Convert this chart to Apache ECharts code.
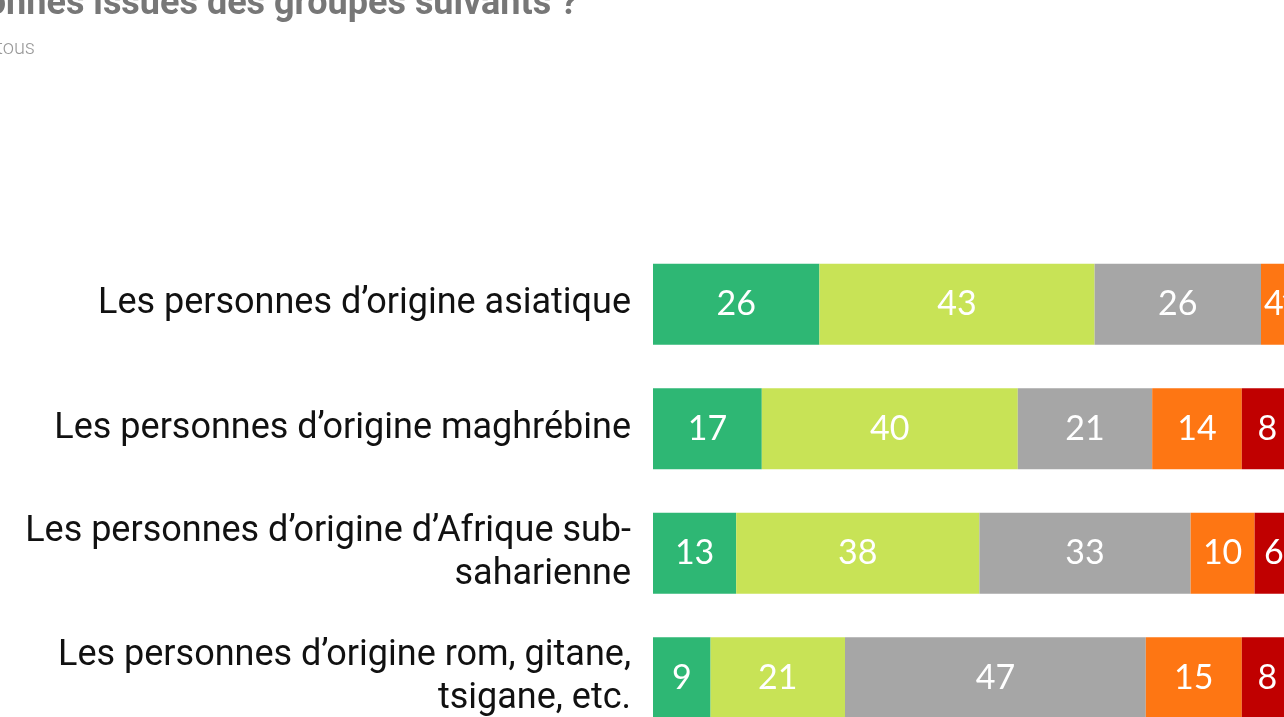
<!DOCTYPE html>
<html>
<head>
<meta charset="utf-8">
<script src="https://cdn.jsdelivr.net/npm/echarts@6/dist/echarts.min.js"></script>
<style>
  html,body{margin:0;padding:0;background:#fff;}
  #chart{width:1284px;height:717px;}
</style>
</head>
<body>
<div id="chart"></div>
<script>
// categories (top to bottom)
var categories = [
  "Les personnes d\u2019origine asiatique",
  "Les personnes d\u2019origine maghr\u00e9bine",
  "Les personnes d\u2019origine d\u2019Afrique sub-\nsaharienne",
  "Les personnes d\u2019origine rom, gitane,\ntsigane, etc."
];
// series values, in %
var tresPositive = [26, 17, 13, 9];
var plutotPositive = [43, 40, 38, 21];
var neutre = [26, 21, 33, 47];
var plutotNegative = [4, 14, 10, 15];
var tresNegative = [1, 8, 6, 8];

var seriesNames = ["Tr\u00e8s positive", "Plut\u00f4t positive", "Ni l'un ni l'autre", "Plut\u00f4t n\u00e9gative", "Tr\u00e8s n\u00e9gative"];
var seriesData = [tresPositive, plutotPositive, neutre, plutotNegative, tresNegative];
var colors = ["#2EB774", "#C8E356", "#A6A6A6", "#FE7613", "#C00000"];

var myChart = echarts.init(document.getElementById('chart'));

var series = [];
for (var i = 0; i < seriesData.length; i++) {
  series.push({
    name: seriesNames[i],
    type: 'bar',
    stack: 'total',
    barCategoryGap: '35%',
    itemStyle: {color: colors[i]},
    label: {
      show: true,
      position: 'inside',
      color: '#fff',
      fontFamily: 'Lato',
      fontSize: 34
    },
    data: seriesData[i]
  });
}

var option = {
  animation: false,
  grid: {
    left: 653,
    top: 242,
    width: 640,
    height: 498,
    containLabel: false,
    outerBoundsMode: 'none'
  },
  xAxis: {
    type: 'value',
    min: 0,
    max: 100,
    show: false
  },
  yAxis: {
    type: 'category',
    inverse: true,
    data: categories,
    axisLine: {show: false},
    axisTick: {show: false},
    splitLine: {show: false},
    axisLabel: {
      margin: 22,
      color: '#111',
      fontFamily: 'Roboto',
      fontSize: 36,
      lineHeight: 43,
      align: 'right'
    }
  },
  graphic: [
    {
      type: 'text',
      x: 578,
      y: -13,
      style: {
        text: "Quelle image avez-vous des personnes issues des groupes suivants ?",
        textAlign: 'right',
        textVerticalAlign: 'top',
        fill: '#777',
        font: 'bold 36px Roboto'
      }
    },
    {
      type: 'text',
      x: 35,
      y: 39,
      style: {
        text: "Base : tous",
        textAlign: 'right',
        textVerticalAlign: 'top',
        fill: '#999',
        font: '300 20px Roboto'
      }
    }
  ],
  series: series
};
myChart.setOption(option);
</script>
</body>
</html>
